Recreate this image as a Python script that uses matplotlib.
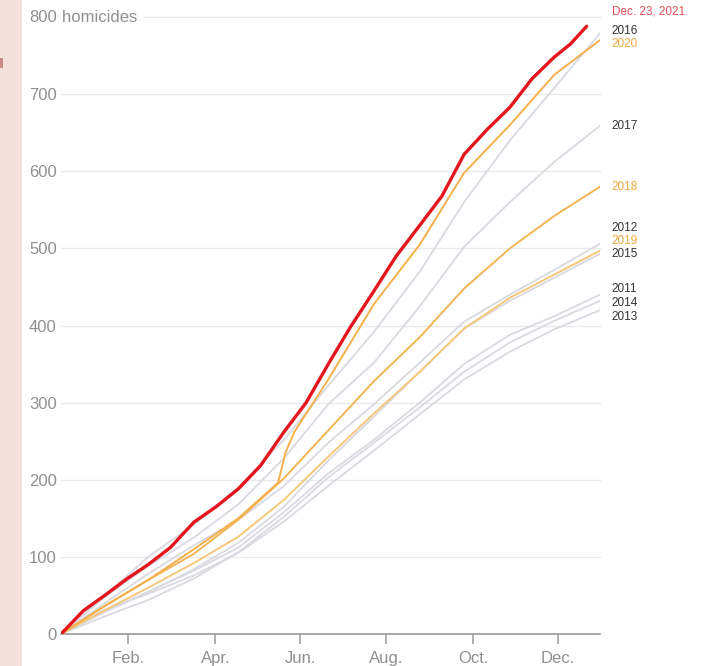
import matplotlib
matplotlib.use("Agg")
import matplotlib.pyplot as plt
from matplotlib.patches import Rectangle

# cumulative homicides at roughly monthly checkpoints (day of year)
days = [0, 31, 59, 90, 120, 151, 181, 212, 243, 273, 304, 334, 365]

y2011 = [0, 30, 55, 82, 112, 158, 208, 252, 300, 350, 388, 412, 440]
y2012 = [0, 42, 78, 115, 148, 192, 248, 298, 352, 405, 440, 472, 506]
y2013 = [0, 33, 52, 76, 105, 146, 192, 238, 285, 330, 366, 395, 420]
y2014 = [0, 24, 44, 72, 106, 152, 203, 248, 294, 340, 378, 406, 432]
y2015 = [0, 30, 54, 84, 118, 165, 225, 282, 340, 396, 432, 462, 493]
y2016 = [0, 52, 100, 142, 190, 252, 322, 392, 470, 560, 640, 708, 779]
y2017 = [0, 50, 88, 125, 168, 228, 298, 352, 425, 502, 560, 612, 659]
y2018 = [0, 38, 70, 104, 148, 202, 264, 328, 385, 448, 500, 542, 580]
y2019 = [0, 32, 60, 92, 126, 174, 230, 286, 340, 396, 436, 466, 497]

days2020 = [0, 31, 59, 90, 120, 147, 152, 158, 181, 212, 243, 273, 304, 334, 365]
y2020 = [0, 38, 70, 110, 150, 196, 235, 262, 330, 428, 505, 598, 660, 725, 770]

days2021 = [0, 15, 31, 45, 59, 74, 90, 105, 120, 135, 151, 166, 181, 196, 212,
            227, 243, 258, 273, 289, 304, 319, 334, 345, 356]
y2021 = [0, 30, 52, 72, 90, 112, 145, 165, 188, 218, 262, 300, 350, 398, 445,
         490, 530, 568, 622, 655, 683, 720, 748, 765, 788]

gray_years = ['2011', '2012', '2013', '2014', '2015', '2016', '2017']
orange_years = ['2018', '2019', '2020']

month_labels = ['Feb.', 'Apr.', 'Jun.', 'Aug.', 'Oct.', 'Dec.']
month_ticks = [45.5, 104.5, 162, 220, 279, 336.5]


def main():
    series = {
        '2011': (days, y2011), '2012': (days, y2012), '2013': (days, y2013),
        '2014': (days, y2014), '2015': (days, y2015), '2016': (days, y2016),
        '2017': (days, y2017), '2018': (days, y2018), '2019': (days, y2019),
        '2020': (days2020, y2020),
    }
    orange_cols = {'2018': '#f4b456', '2019': '#f7c77c', '2020': '#f5b04c'}

    fig = plt.figure(figsize=(7.08, 6.66), dpi=100)
    # pinkish strip on the left edge of the screenshot
    fig.patches.append(Rectangle((0, 0), 22 / 708, 1, transform=fig.transFigure,
                                 facecolor='#f3e1da', edgecolor='none'))
    fig.patches.append(Rectangle((0, 1 - 68 / 666), 3 / 708, 10 / 666, transform=fig.transFigure,
                                 facecolor='#c98a86', edgecolor='none'))

    ax = fig.add_axes([61 / 708, 32 / 666, 539 / 708, 617 / 666])
    ax.set_xlim(0, 365)
    ax.set_ylim(0, 800)

    for yr in gray_years:
        d, v = series[yr]
        ax.plot(d, v, color='#d9d9e1', lw=1.3, zorder=2)
    for yr in orange_years:
        d, v = series[yr]
        ax.plot(d, v, color=orange_cols[yr], lw=1.4, zorder=3)
    ax.plot(days2021, y2021, color='#e3161d', lw=2.4, zorder=4, solid_capstyle='round')

    # grid
    for g in range(100, 900, 100):
        ax.axhline(g, color='#ebebeb', lw=1, zorder=0, clip_on=False)

    for s in ['top', 'right', 'left']:
        ax.spines[s].set_visible(False)
    ax.spines['bottom'].set_color('#9a9a9a')
    ax.spines['bottom'].set_linewidth(1.2)

    ax.set_yticks(range(0, 800, 100))
    ax.set_yticklabels([str(v) for v in range(0, 800, 100)])
    ax.tick_params(axis='y', length=0, pad=3, labelsize=12, labelcolor='#909090')
    ax.set_xticks(month_ticks)
    ax.set_xticklabels(month_labels)
    ax.tick_params(axis='x', length=7, width=1.1, color='#9a9a9a', pad=5,
                   labelsize=12, labelcolor='#909090')
    for lab in ax.get_xticklabels() + ax.get_yticklabels():
        lab.set_family('Liberation Sans')

    ax.text(-3, 800, '800', ha='right', va='center', fontsize=12, color='#909090',
            family='Liberation Sans', clip_on=False)
    ax.text(1, 800, 'homicides ', ha='left', va='center', fontsize=12, color='#909090',
            family='Liberation Sans', clip_on=False, zorder=5,
            bbox=dict(facecolor='white', edgecolor='none', pad=1))

    # end labels
    label_y = {'2016': 782, '2020': 765, '2017': 659, '2018': 580, '2012': 527,
               '2019': 510, '2015': 493, '2011': 447, '2014': 429, '2013': 411}
    for yr, yy in label_y.items():
        col = '#f0a83a' if yr in orange_years else '#333333'
        ax.text(373, yy, yr, ha='left', va='center', fontsize=8.5, color=col,
                family='Liberation Sans', clip_on=False)
    ax.text(373, 807, 'Dec. 23, 2021', ha='left', va='center', fontsize=8.5,
            color='#e8505a', family='Liberation Sans', clip_on=False)

    fig.savefig('out.png', dpi=100, facecolor='white')


if __name__ == "__main__":
    main()
